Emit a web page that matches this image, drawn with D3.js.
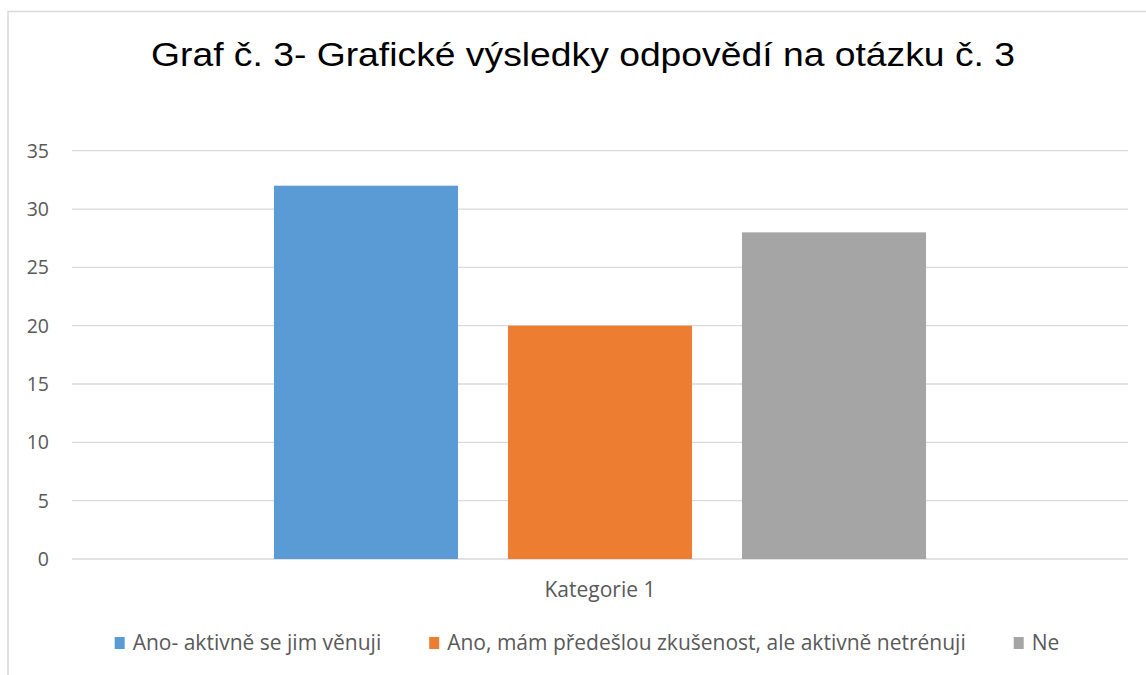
<!DOCTYPE html>
<html>
<head>
<meta charset="utf-8">
<script src="https://cdn.jsdelivr.net/npm/d3@7"></script>
<style>
  body { margin: 0; background: #fff; }
  svg { display: block; }
  .tick-label, .cat-label, .legend-text { font-family: "Open Sans", sans-serif; fill: #595959; }
  .title { font-family: "Liberation Sans", Arial, sans-serif; fill: #000; }
</style>
</head>
<body>
<svg id="chart" width="1146" height="675"></svg>
<script>
// ==========================================
// DATA
// ==========================================
const titleText = 'Graf č. 3- Grafické výsledky odpovědí na otázku č. 3';
const categories = ['Kategorie 1'];
const seriesNames = [
  'Ano- aktivně se jim věnuji',
  'Ano, mám předešlou zkušenost, ale aktivně netrénuji',
  'Ne'
];
const seriesValues = [32, 20, 28];
const seriesColors = ['#5b9bd5', '#ed7d31', '#a5a5a5'];
const yTicks = [0, 5, 10, 15, 20, 25, 30, 35];

// ==========================================
// SETUP
// ==========================================
const svg = d3.select('#chart');
const chartCenter = 583;
const plot = { left: 72, right: 1128, top: 150.7, bottom: 559 };

// chart border (runs off the right / bottom edge like the source)
svg.append('rect')
  .attr('x', 8)
  .attr('y', 11.5)
  .attr('width', 1160)
  .attr('height', 680)
  .attr('fill', 'none')
  .attr('stroke', '#d9d9d9')
  .attr('stroke-width', 1.5);

// title is a bit wider than Liberation Sans renders it, so stretch it
svg.append('text')
  .attr('class', 'title')
  .attr('x', chartCenter - 432)
  .attr('y', 66)
  .attr('textLength', 864)
  .attr('lengthAdjust', 'spacingAndGlyphs')
  .style('font-size', '33px')
  .text(titleText);

// ==========================================
// SCALES
// ==========================================
const y = d3.scaleLinear()
  .domain([0, 35])
  .range([plot.bottom, plot.top]);

const x0 = d3.scaleBand()
  .domain(categories)
  .range([plot.left, plot.right]);

const x1 = d3.scaleBand()
  .domain(seriesNames)
  .range([0, x0.bandwidth()])
  .paddingInner(50 / 234)
  .paddingOuter(0.863);

// ==========================================
// GRID + Y LABELS
// ==========================================
svg.append('g')
  .selectAll('line')
  .data(yTicks)
  .enter()
  .append('line')
  .attr('x1', plot.left)
  .attr('x2', plot.right)
  .attr('y1', d => y(d))
  .attr('y2', d => y(d))
  .attr('stroke', '#d9d9d9')
  .attr('stroke-width', 1.3);

svg.append('g')
  .selectAll('text')
  .data(yTicks)
  .enter()
  .append('text')
  .attr('class', 'tick-label')
  .attr('x', 49)
  .attr('y', d => y(d))
  .attr('dy', '0.36em')
  .attr('text-anchor', 'end')
  .style('font-size', '19.5px')
  .text(d => d);

// ==========================================
// BARS
// ==========================================
const barData = seriesNames.map((name, i) => ({
  name: name,
  value: seriesValues[i],
  color: seriesColors[i],
  cat: categories[0]
}));

svg.append('g')
  .selectAll('rect')
  .data(barData)
  .enter()
  .append('rect')
  .attr('x', d => x0(d.cat) + x1(d.name))
  .attr('y', d => y(d.value))
  .attr('width', x1.bandwidth())
  .attr('height', d => y(0) - y(d.value))
  .attr('fill', d => d.color);

svg.append('g')
  .selectAll('text')
  .data(categories)
  .enter()
  .append('text')
  .attr('class', 'cat-label')
  .attr('x', d => x0(d) + x0.bandwidth() / 2)
  .attr('y', 597)
  .attr('text-anchor', 'middle')
  .style('font-size', '21px')
  .text(d => d);

// ==========================================
// LEGEND
// ==========================================
const legend = svg.append('g');
const boxSize = 10;
const boxGap = 8;
const itemGap = 48;
let cursor = 0;

barData.forEach(d => {
  const item = legend.append('g').attr('transform', `translate(${cursor},0)`);
  item.append('rect')
    .attr('x', 0)
    .attr('y', 637)
    .attr('width', boxSize)
    .attr('height', boxSize + 2)
    .attr('fill', d.color);
  const t = item.append('text')
    .attr('class', 'legend-text')
    .attr('x', boxSize + boxGap)
    .attr('y', 650)
    .style('font-size', '21px')
    .text(d.name);
  cursor += boxSize + boxGap + t.node().getComputedTextLength() + itemGap;
});

const legendWidth = cursor - itemGap;
legend.attr('transform', `translate(${chartCenter - legendWidth / 2 + 4},0)`);
</script>
</body>
</html>
